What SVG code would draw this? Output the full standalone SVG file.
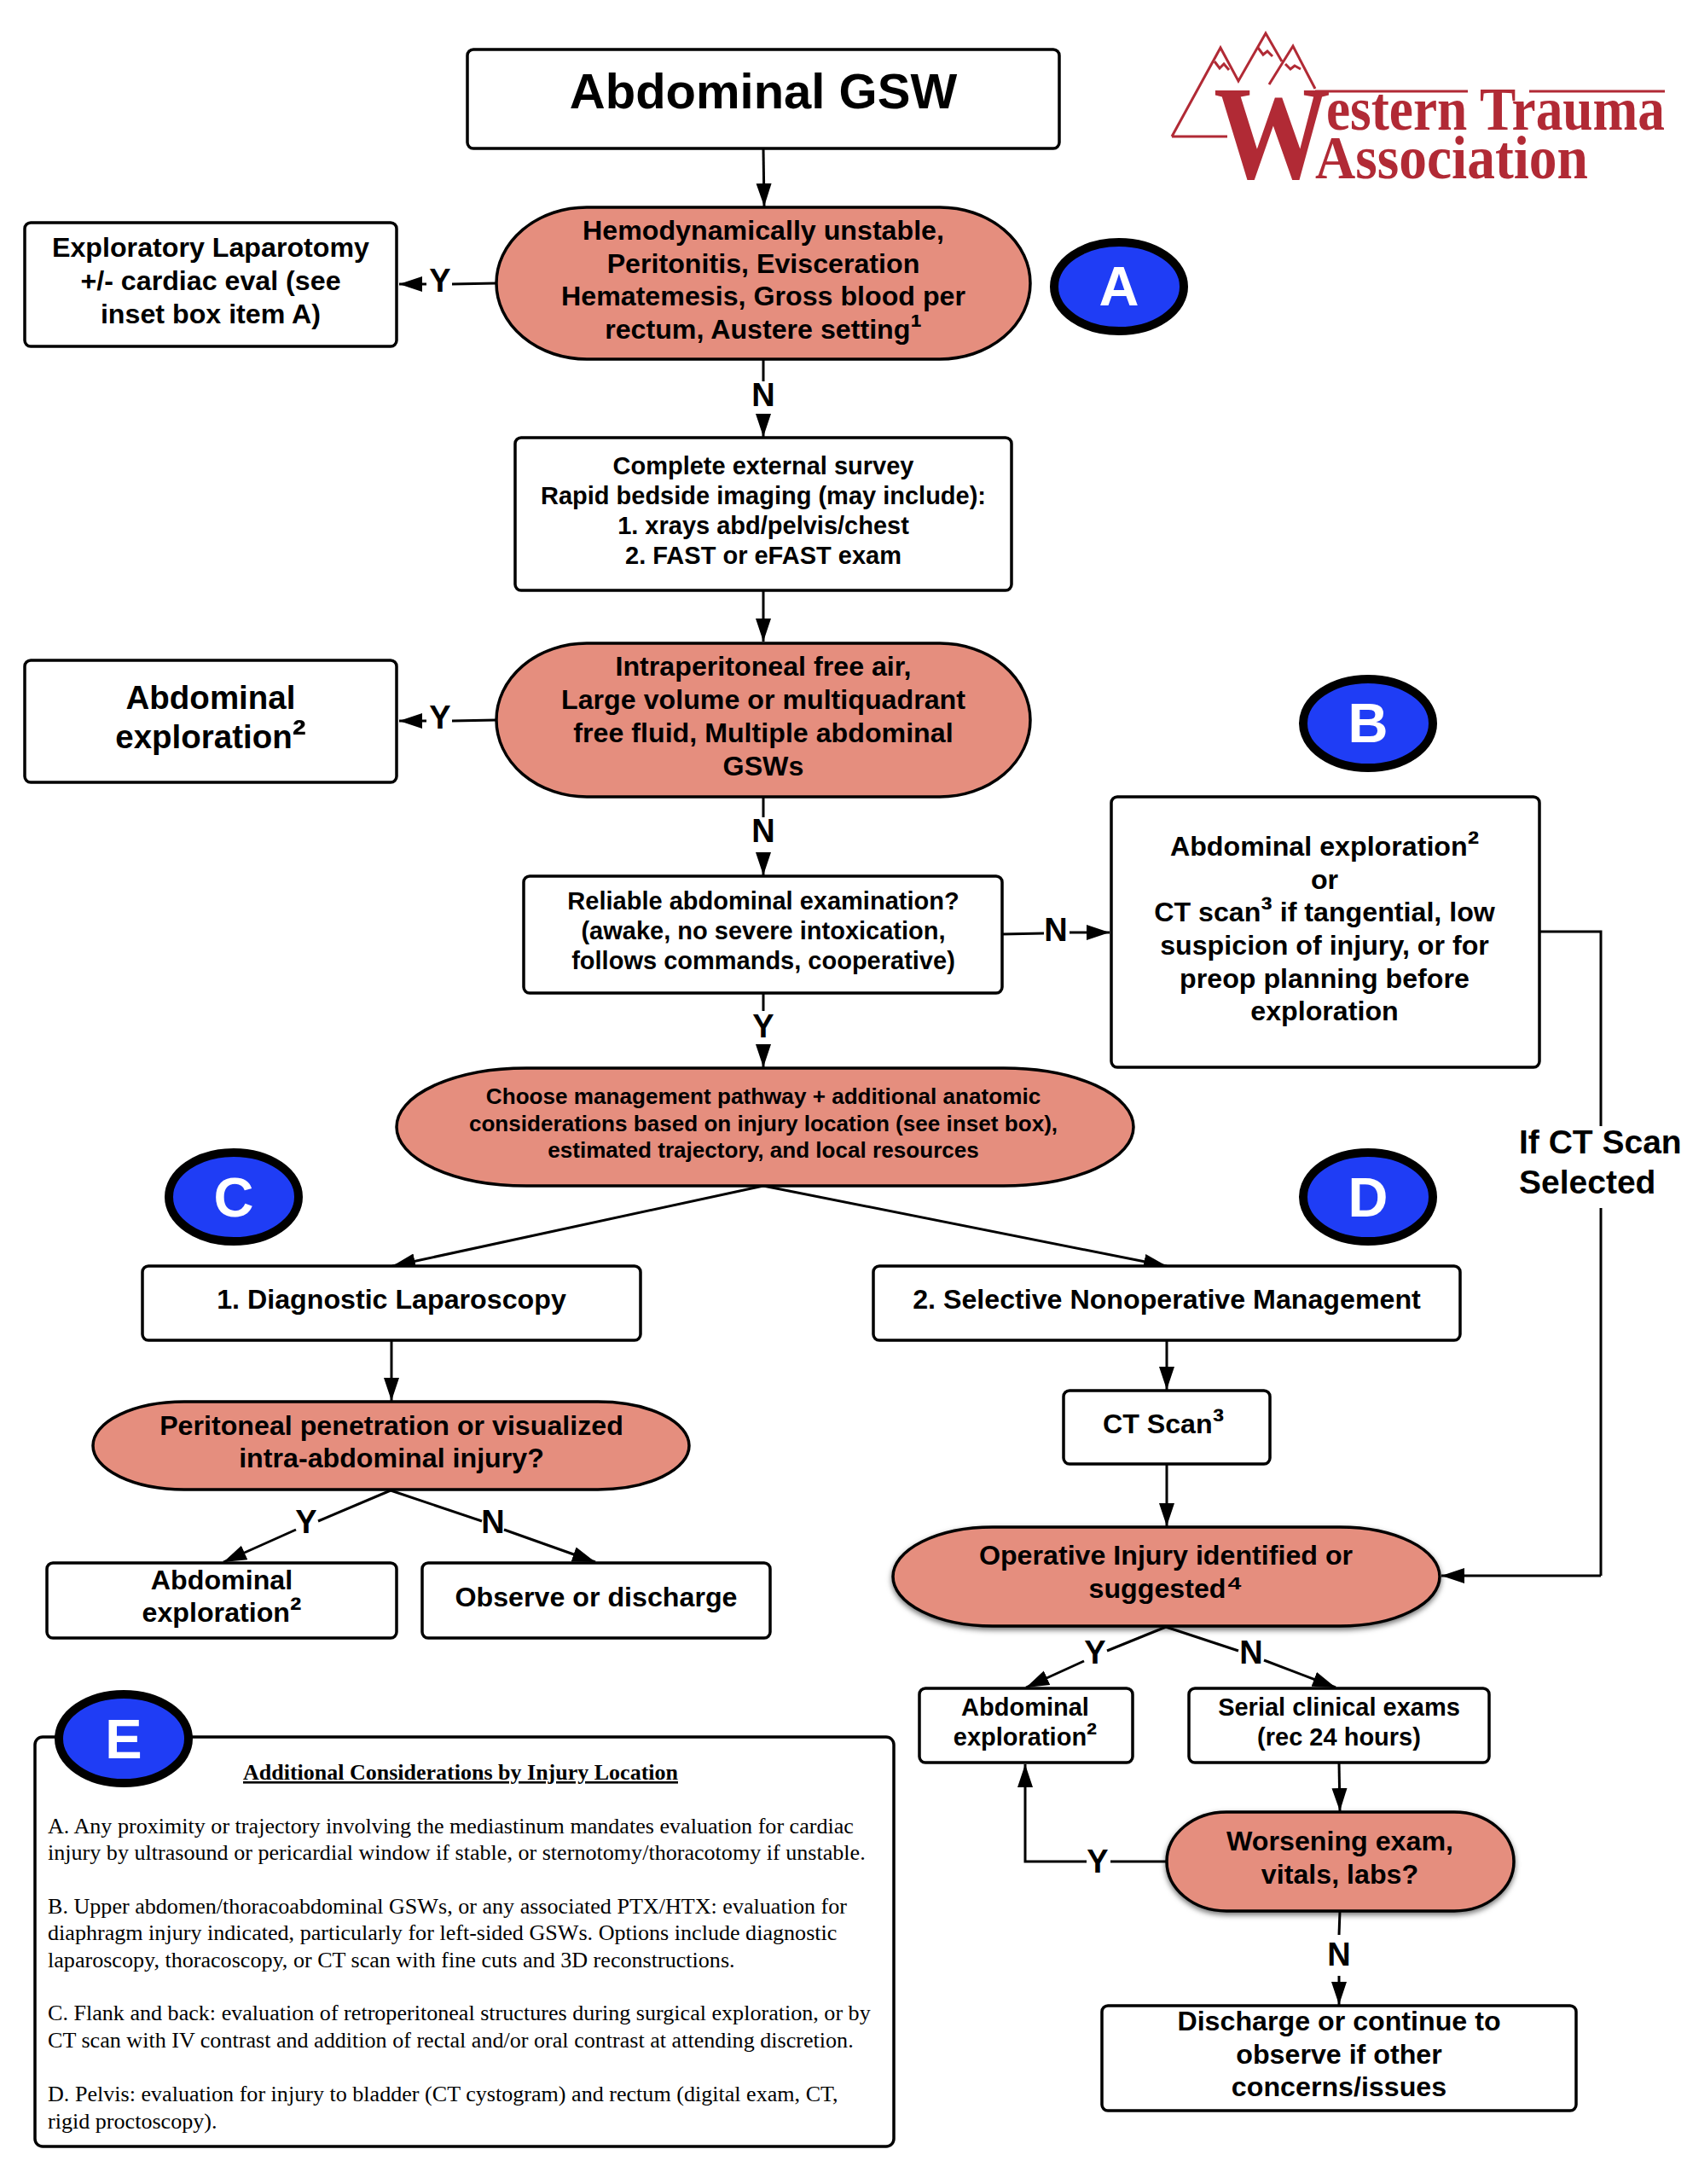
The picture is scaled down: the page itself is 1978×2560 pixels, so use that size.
<svg xmlns="http://www.w3.org/2000/svg" width="1978" height="2560" viewBox="0 0 1978 2560">
<style>
text{font-family:"Liberation Sans",Arial,sans-serif;font-weight:700;fill:#000;text-anchor:middle}
.box{fill:#fff;stroke:#000;stroke-width:3.5}
.dec{fill:#e58e7e;stroke:#000;stroke-width:3.5}
.badge{fill:#1f3df5;stroke:#000;stroke-width:10}
.bl{font-size:65px;fill:#fff}
.c{fill:none;stroke:#000;stroke-width:3}
.a{marker-end:url(#arr)}
.lab{font-size:38px}
.sup{font-size:1.25em}
.f32{font-size:32.2px}.f29{font-size:29px}.f26{font-size:26.1px}.f34{font-size:32.2px}.f38{font-size:38.5px}
.side{font-size:39px;text-anchor:start}
.serif{font-family:"Liberation Serif",serif;font-weight:400;font-size:26.1px;text-anchor:start}
.logo{font-family:"Liberation Serif",serif;fill:#b12a35;text-anchor:start}
.lg{fill:none;stroke:#b12a35;stroke-width:3}
</style>
<defs>
<marker id="arr" markerUnits="userSpaceOnUse" markerWidth="28" markerHeight="20" refX="27" refY="10" orient="auto"><path d="M0 1L27 10L0 19Z" fill="#000"/></marker>
<filter id="sh" x="-5%" y="-10%" width="110%" height="125%"><feDropShadow dx="0" dy="3" stdDeviation="3" flood-color="#000" flood-opacity=".55"/></filter>
</defs>
<rect width="1978" height="2560" fill="#fff"/>

<g id="logo">
<path class="lg" d="M1374 160L1431 56L1452 95L1484 39L1503 72M1488 99L1516 54L1542 104M1374 160H1439M1542 107H1721M1793 107H1952"/>
<path class="lg" stroke-width="2" d="M1424 72L1430 80L1435 75L1441 82M1475 56L1481 64L1486 60L1492 66M1507 75L1513 81L1518 77L1525 81"/>
<text class="logo" x="1423" y="209" font-size="157" font-weight="700" textLength="137" lengthAdjust="spacingAndGlyphs">W</text>
<text class="logo" x="1555" y="152" font-size="71" font-weight="700" textLength="397" lengthAdjust="spacingAndGlyphs">estern Trauma</text>
<text class="logo" x="1542" y="209" font-size="71" font-weight="700" textLength="320" lengthAdjust="spacingAndGlyphs">Association</text>
</g>

<g id="connectors">
<path class="c a" d="M895 174L896 242"/>
<path class="c" d="M582 332L530 333"/><path class="c a" d="M500 333H468"/>
<path class="c" d="M895 421V447"/><path class="c a" d="M895 487V512"/>
<path class="c a" d="M895 692V752"/>
<path class="c" d="M582 844L530 845"/><path class="c a" d="M500 845H468"/>
<path class="c" d="M895 934V958"/><path class="c a" d="M895 1000V1026"/>
<path class="c" d="M1175 1095L1224 1094"/><path class="c a" d="M1254 1093H1301"/>
<path class="c" d="M895 1164V1185"/><path class="c a" d="M895 1226V1251"/>
<path class="c" d="M1804 1092H1877V1320M1877 1416V1847"/><path class="c a" d="M1877 1847H1690"/>
<path class="c a" d="M895 1390L460 1484"/><path class="c a" d="M895 1390L1368 1484"/>
<path class="c a" d="M459 1571V1642"/>
<path class="c a" d="M1368 1571V1629"/>
<path class="c a" d="M1368 1716V1789"/>
<path class="c" d="M458 1747L373 1783"/><path class="c a" d="M347 1793L262 1831"/>
<path class="c" d="M458 1747L565 1783"/><path class="c a" d="M591 1793L698 1831"/>
<path class="c" d="M1367 1907L1298 1935"/><path class="c a" d="M1271 1947L1203 1978"/>
<path class="c" d="M1367 1907L1452 1935"/><path class="c a" d="M1482 1946L1566 1978"/>
<path class="c a" d="M1570 2066L1571 2123"/>
<path class="c" d="M1368 2182H1302"/><path class="c a" d="M1274 2182H1202V2068"/>
<path class="c" d="M1571 2240L1570 2268"/><path class="c a" d="M1570 2316V2350"/>
</g>

<g id="edge-labels">
<text class="lab" x="516" y="342">Y</text>
<text class="lab" x="895" y="476">N</text>
<text class="lab" x="516" y="854">Y</text>
<text class="lab" x="895" y="987">N</text>
<text class="lab" x="1238" y="1103">N</text>
<text class="lab" x="895" y="1216">Y</text>
<text class="lab" x="359" y="1797">Y</text>
<text class="lab" x="578" y="1797">N</text>
<text class="lab" x="1284" y="1950">Y</text>
<text class="lab" x="1467" y="1950">N</text>
<text class="lab" x="1287" y="2195">Y</text>
<text class="lab" x="1570" y="2304">N</text>
<text class="side" x="1781" y="1352">If CT Scan</text>
<text class="side" x="1781" y="1399">Selected</text>
</g>

<g id="title"><rect class="box" x="548" y="58" width="694" height="116" rx="7"/><text x="895" y="127" font-size="58">Abdominal GSW</text></g>

<g id="decision-a"><rect class="dec" x="582" y="243" width="626" height="178" rx="106" ry="89"/>
<text class="f32" x="895" y="281">Hemodynamically unstable,</text><text class="f32" x="895" y="320">Peritonitis, Evisceration</text><text class="f32" x="895" y="358">Hematemesis, Gross blood per</text><text class="f32" x="895" y="397">rectum, Austere setting<tspan class="sup">¹</tspan></text></g>

<g id="laparotomy"><rect class="box" x="29" y="261" width="436" height="145" rx="7"/>
<text class="f32" x="247" y="301">Exploratory Laparotomy</text><text class="f32" x="247" y="340">+/- cardiac eval (see</text><text class="f32" x="247" y="379">inset box item A)</text></g>

<g id="survey"><rect class="box" x="604" y="513" width="582" height="179" rx="7"/>
<text class="f29" x="895" y="556">Complete external survey</text><text class="f29" x="895" y="591">Rapid bedside imaging (may include):</text><text class="f29" x="895" y="626">1. xrays abd/pelvis/chest</text><text class="f29" x="895" y="661">2. FAST or eFAST exam</text></g>

<g id="decision-free-air"><rect class="dec" x="582" y="754" width="626" height="180" rx="106" ry="90"/>
<text class="f32" x="895" y="792">Intraperitoneal free air,</text><text class="f32" x="895" y="831">Large volume or multiquadrant</text><text class="f32" x="895" y="870">free fluid, Multiple abdominal</text><text class="f32" x="895" y="909">GSWs</text></g>

<g id="exploration-top"><rect class="box" x="29" y="774" width="436" height="143" rx="7"/>
<text class="f38" x="247" y="831">Abdominal</text><text class="f38" x="247" y="877">exploration<tspan class="sup">²</tspan></text></g>

<g id="reliable"><rect class="box" x="614" y="1027" width="561" height="137" rx="7"/>
<text class="f29" x="895" y="1066">Reliable abdominal examination?</text><text class="f29" x="895" y="1101">(awake, no severe intoxication,</text><text class="f29" x="895" y="1136">follows commands, cooperative)</text></g>

<g id="exploration-or-ct"><rect class="box" x="1303" y="934" width="502" height="317" rx="7"/>
<text class="f32" x="1553" y="1003">Abdominal exploration<tspan class="sup">²</tspan></text><text class="f32" x="1553" y="1042">or</text><text class="f32" x="1553" y="1080">CT scan<tspan class="sup">³</tspan> if tangential, low</text><text class="f32" x="1553" y="1119">suspicion of injury, or for</text><text class="f32" x="1553" y="1158">preop planning before</text><text class="f32" x="1553" y="1196">exploration</text></g>

<g id="pathway"><rect class="dec" x="465" y="1252" width="864" height="138" rx="152" ry="69"/>
<text class="f26" x="895" y="1294">Choose management pathway + additional anatomic</text><text class="f26" x="895" y="1326">considerations based on injury location (see inset box),</text><text class="f26" x="895" y="1357">estimated trajectory, and local resources</text></g>

<g id="laparoscopy"><rect class="box" x="167" y="1484" width="584" height="87" rx="7"/><text class="f34" x="459" y="1534">1. Diagnostic Laparoscopy</text></g>
<g id="snm"><rect class="box" x="1024" y="1484" width="688" height="87" rx="7"/><text class="f34" x="1368" y="1534">2. Selective Nonoperative Management</text></g>

<g id="peritoneal"><rect class="dec" x="109" y="1643" width="699" height="103" rx="107" ry="51.5"/>
<text class="f34" x="459" y="1682">Peritoneal penetration or visualized</text><text class="f34" x="459" y="1720">intra-abdominal injury?</text></g>

<g id="exploration-left"><rect class="box" x="55" y="1832" width="410" height="88" rx="7"/>
<text class="f32" x="260" y="1863">Abdominal</text><text class="f32" x="260" y="1901">exploration<tspan class="sup">²</tspan></text></g>
<g id="observe"><rect class="box" x="495" y="1832" width="408" height="88" rx="7"/><text class="f34" x="699" y="1883">Observe or discharge</text></g>

<g id="ct"><rect class="box" x="1247" y="1630" width="242" height="86" rx="7"/><text class="f32" x="1364" y="1680">CT Scan<tspan class="sup">³</tspan></text></g>

<g id="operative"><rect class="dec" filter="url(#sh)" x="1047" y="1790" width="641" height="116" rx="117" ry="58"/>
<text class="f32" x="1367" y="1834">Operative Injury identified or</text><text class="f32" x="1367" y="1873">suggested<tspan class="sup">⁴</tspan></text></g>

<g id="exploration-right"><rect class="box" x="1078" y="1979" width="250" height="87" rx="7"/>
<text class="f29" x="1202" y="2011">Abdominal</text><text class="f29" x="1202" y="2046">exploration<tspan class="sup">²</tspan></text></g>
<g id="serial"><rect class="box" x="1394" y="1979" width="352" height="87" rx="7"/>
<text class="f29" x="1570" y="2011">Serial clinical exams</text><text class="f29" x="1570" y="2046">(rec 24 hours)</text></g>

<g id="worsening"><rect class="dec" filter="url(#sh)" x="1368" y="2124" width="407" height="116" rx="70" ry="58"/>
<text class="f32" x="1571" y="2169">Worsening exam,</text><text class="f32" x="1571" y="2208">vitals, labs?</text></g>

<g id="discharge"><rect class="box" x="1292" y="2351" width="556" height="123" rx="7"/>
<text class="f34" x="1570" y="2380">Discharge or continue to</text><text class="f34" x="1570" y="2419">observe if other</text><text class="f34" x="1570" y="2457">concerns/issues</text></g>

<g id="inset"><rect class="box" x="41" y="2036" width="1007" height="480" rx="9"/>
<text x="540" y="2086" style="font-family:'Liberation Serif',serif;font-size:26px;text-decoration:underline">Additional Considerations by Injury Location</text>
<text class="serif" x="56" y="2149">A. Any proximity or trajectory involving the mediastinum mandates evaluation for cardiac</text>
<text class="serif" x="56" y="2180">injury by ultrasound or pericardial window if stable, or sternotomy/thoracotomy if unstable.</text>
<text class="serif" x="56" y="2243">B. Upper abdomen/thoracoabdominal GSWs, or any associated PTX/HTX: evaluation for</text>
<text class="serif" x="56" y="2274">diaphragm injury indicated, particularly for left-sided GSWs. Options include diagnostic</text>
<text class="serif" x="56" y="2306">laparoscopy, thoracoscopy, or CT scan with fine cuts and 3D reconstructions.</text>
<text class="serif" x="56" y="2368">C. Flank and back: evaluation of retroperitoneal structures during surgical exploration, or by</text>
<text class="serif" x="56" y="2400">CT scan with IV contrast and addition of rectal and/or oral contrast at attending discretion.</text>
<text class="serif" x="56" y="2463">D. Pelvis: evaluation for injury to bladder (CT cystogram) and rectum (digital exam, CT,</text>
<text class="serif" x="56" y="2495">rigid proctoscopy).</text>
</g>

<g id="badge-a"><ellipse class="badge" cx="1312" cy="336" rx="76" ry="52"/><text class="bl" x="1312" y="358">A</text></g>
<g id="badge-b"><ellipse class="badge" cx="1604" cy="848" rx="76" ry="52"/><text class="bl" x="1604" y="870">B</text></g>
<g id="badge-c"><ellipse class="badge" cx="274" cy="1403" rx="76" ry="52"/><text class="bl" x="274" y="1426">C</text></g>
<g id="badge-d"><ellipse class="badge" cx="1604" cy="1403" rx="76" ry="52"/><text class="bl" x="1604" y="1426">D</text></g>
<g id="badge-e"><ellipse class="badge" cx="145" cy="2038" rx="76" ry="52"/><text class="bl" x="145" y="2061">E</text></g>
</svg>
